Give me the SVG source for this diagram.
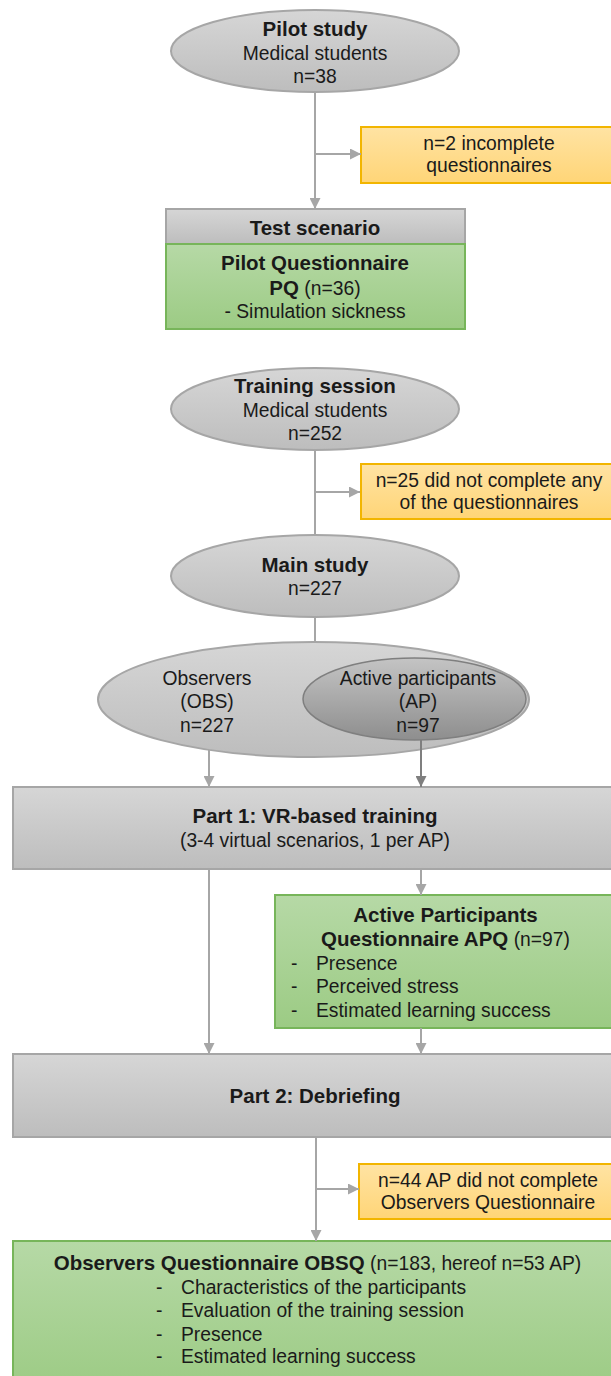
<svg xmlns="http://www.w3.org/2000/svg" width="611" height="1376" viewBox="0 0 611 1376">
<defs>
<linearGradient id="gGray" x1="0" y1="0" x2="0" y2="1"><stop offset="0" stop-color="#D6D6D6"/><stop offset="1" stop-color="#BDBDBD"/></linearGradient>
<linearGradient id="gDark" x1="0" y1="0" x2="0" y2="1"><stop offset="0" stop-color="#C4C4C4"/><stop offset="1" stop-color="#8E8E8E"/></linearGradient>
<linearGradient id="gGreen" x1="0" y1="0" x2="0" y2="1"><stop offset="0" stop-color="#B6D9A6"/><stop offset="1" stop-color="#9CCB84"/></linearGradient>
<linearGradient id="gYellow" x1="0" y1="0" x2="0" y2="1"><stop offset="0" stop-color="#FFE3A3"/><stop offset="1" stop-color="#FFD577"/></linearGradient>
<marker id="arr" markerUnits="userSpaceOnUse" markerWidth="11" markerHeight="11" refX="10" refY="5" orient="auto" viewBox="0 0 10 10"><path d="M0,0 L10,5 L0,10 z" fill="#A6A6A6"/></marker>
<marker id="arrD" markerUnits="userSpaceOnUse" markerWidth="11" markerHeight="11" refX="10" refY="5" orient="auto" viewBox="0 0 10 10"><path d="M0,0 L10,5 L0,10 z" fill="#7F7F7F"/></marker>
<style>
text{font-family:"Liberation Sans",Arial,sans-serif;font-size:19.3px;fill:#1a1a1a}
.c{text-anchor:middle}
.b{font-weight:bold;font-size:20.5px}
.ell{fill:url(#gGray);stroke:#A6A6A6;stroke-width:2}
.box{fill:url(#gGray);stroke:#A6A6A6;stroke-width:2}
.grn{fill:url(#gGreen);stroke:#77B55A;stroke-width:2}
.yel{fill:url(#gYellow);stroke:#F2B500;stroke-width:2}
.ln{stroke:#A6A6A6;stroke-width:2;fill:none}
</style>
</defs>

<g id="pilot">
<ellipse class="ell" cx="315" cy="51" rx="144" ry="41"/>
<text class="c b" x="315" y="36">Pilot study</text>
<text class="c" x="315" y="60">Medical students</text>
<text class="c" x="315" y="83">n=38</text>
</g>

<g id="excl1">
<rect class="yel" x="361" y="127" width="260" height="56"/>
<text class="c" x="489" y="150">n=2 incomplete</text>
<text class="c" x="489" y="172">questionnaires</text>
</g>

<g id="test">
<rect class="box" x="166" y="209" width="299" height="35"/>
<text class="c b" x="315" y="235">Test scenario</text>
</g>

<g id="pq">
<rect class="grn" x="166" y="244" width="299" height="85"/>
<text class="c" x="315" y="270"><tspan class="b">Pilot Questionnaire</tspan></text>
<text class="c" x="315" y="295"><tspan class="b">PQ</tspan> (n=36)</text>
<text class="c" x="315" y="318">- Simulation sickness</text>
</g>

<g id="training">
<ellipse class="ell" cx="315" cy="409" rx="144" ry="41"/>
<text class="c b" x="315" y="393">Training session</text>
<text class="c" x="315" y="417">Medical students</text>
<text class="c" x="315" y="440">n=252</text>
</g>

<g id="excl2">
<rect class="yel" x="361" y="464" width="260" height="55"/>
<text class="c" x="489" y="487">n=25 did not complete any</text>
<text class="c" x="489" y="509">of the questionnaires</text>
</g>

<g id="main">
<ellipse class="ell" cx="315" cy="576" rx="144" ry="41"/>
<text class="c b" x="315" y="572">Main study</text>
<text class="c" x="315" y="595">n=227</text>
</g>

<g id="observers">
<ellipse class="ell" cx="313.5" cy="699.5" rx="215.5" ry="57.5"/>
<text class="c" x="207" y="685">Observers</text>
<text class="c" x="207" y="708">(OBS)</text>
<text class="c" x="207" y="732">n=227</text>
</g>

<g id="ap">
<ellipse cx="414.5" cy="699" rx="111.5" ry="41" fill="url(#gDark)" stroke="#7F7F7F" stroke-width="1.5"/>
<text class="c" x="418" y="685">Active participants</text>
<text class="c" x="418" y="708">(AP)</text>
<text class="c" x="418" y="732">n=97</text>
</g>

<g id="part1">
<rect class="box" x="13" y="787" width="610" height="82"/>
<text class="c b" x="315" y="823">Part 1: VR-based training</text>
<text class="c" x="315" y="847">(3-4 virtual scenarios, 1 per AP)</text>
</g>

<g id="apq">
<rect class="grn" x="275" y="895" width="350" height="133"/>
<text class="c b" x="445.5" y="922">Active Participants</text>
<text class="c" x="445.5" y="946"><tspan class="b">Questionnaire APQ</tspan> (n=97)</text>
<text x="291" y="970">-</text><text x="316" y="970">Presence</text>
<text x="291" y="993">-</text><text x="316" y="993">Perceived stress</text>
<text x="291" y="1017">-</text><text x="316" y="1017">Estimated learning success</text>
</g>

<g id="part2">
<rect class="box" x="13" y="1054" width="610" height="83"/>
<text class="c b" x="315" y="1103">Part 2: Debriefing</text>
</g>

<g id="excl3">
<rect class="yel" x="359" y="1164" width="262" height="55"/>
<text class="c" x="488" y="1187">n=44 AP did not complete</text>
<text class="c" x="488" y="1209">Observers Questionnaire</text>
</g>

<g id="obsq">
<rect class="grn" x="13" y="1241" width="610" height="150"/>
<text class="c" x="317.5" y="1270"><tspan class="b">Observers Questionnaire OBSQ</tspan> (n=183, hereof n=53 AP)</text>
<text x="156" y="1294">-</text><text x="181" y="1294">Characteristics of the participants</text>
<text x="156" y="1317">-</text><text x="181" y="1317">Evaluation of the training session</text>
<text x="156" y="1341">-</text><text x="181" y="1341">Presence</text>
<text x="156" y="1363">-</text><text x="181" y="1363">Estimated learning success</text>
</g>

<g id="connectors">
<line class="ln" x1="315" y1="92" x2="315" y2="209" marker-end="url(#arr)"/>
<line class="ln" x1="315" y1="154" x2="361" y2="154" marker-end="url(#arr)"/>
<line class="ln" x1="315" y1="450" x2="315" y2="535"/>
<line class="ln" x1="315" y1="492" x2="360" y2="492" marker-end="url(#arr)"/>
<line class="ln" x1="315" y1="617" x2="315" y2="642"/>
<line class="ln" x1="209" y1="750" x2="209" y2="787" marker-end="url(#arr)"/>
<line x1="421" y1="740" x2="421" y2="787" stroke="#7F7F7F" stroke-width="2" marker-end="url(#arrD)"/>
<line class="ln" x1="209" y1="869" x2="209" y2="1054" marker-end="url(#arr)"/>
<line class="ln" x1="421" y1="869" x2="421" y2="895" marker-end="url(#arr)"/>
<line class="ln" x1="421" y1="1028" x2="421" y2="1054" marker-end="url(#arr)"/>
<line class="ln" x1="316" y1="1137" x2="316" y2="1241" marker-end="url(#arr)"/>
<line class="ln" x1="316" y1="1189" x2="359" y2="1189" marker-end="url(#arr)"/>
</g>
</svg>
